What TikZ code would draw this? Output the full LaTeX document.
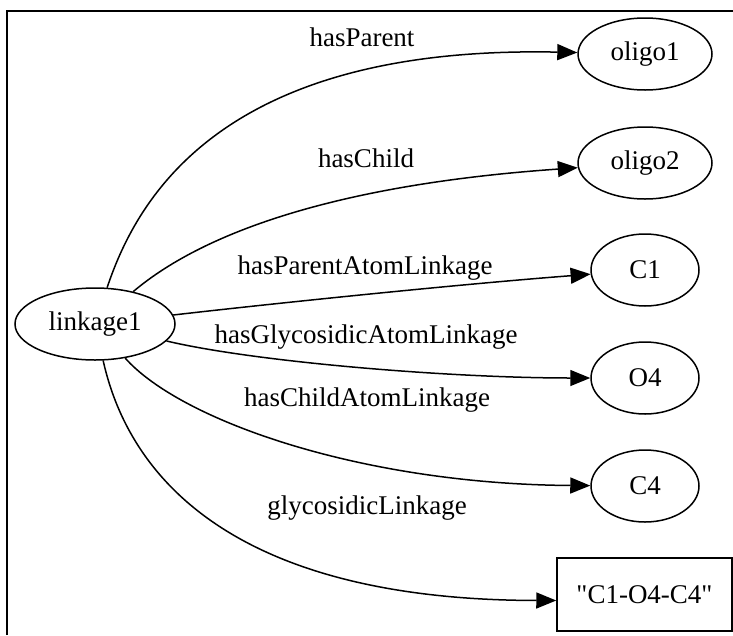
\documentclass[tikz,border=0pt]{standalone}
\usepackage{fontspec}
\setmainfont{Liberation Serif}
\usetikzlibrary{shapes.geometric,arrows.meta}

\begin{document}
\begin{tikzpicture}[x=1pt,y=-1pt,
  every node/.style={font=\fontsize{27}{32}\selectfont},
  ent/.style={draw, ellipse, line width=1.5pt, minimum height=72pt, inner sep=0pt},
  lit/.style={draw, rectangle, line width=1.5pt, minimum width=175pt, minimum height=73pt, inner sep=0pt},
  rel/.style={draw, line width=1.5pt, -{Triangle[length=20pt,width=16pt]}},
  lbl/.style={inner sep=0pt}]
\useasboundingbox (0,0) rectangle (733,635);
% outer frame (left and top edges)
\draw[line width=1.5pt] (7,635) -- (7,11) -- (733,11);

% resources
\node[ent, minimum width=160pt] (linkage) at (95,324) {linkage1};
\node[ent, minimum width=134pt] (oligoA) at (645,54) {oligo1};
\node[ent, minimum width=134pt] (oligoB) at (645,163) {oligo2};
\node[ent, minimum width=108pt] (cone) at (645,270) {C1};
\node[ent, minimum width=108pt] (ofour) at (645,378) {O4};
\node[ent, minimum width=108pt] (cfour) at (645,486) {C4};
\node[lit] (literal) at (644.5,594.5) {\addfontfeatures{Ligatures=TeXOff}"C1-O4-C4"};

% properties
\draw[rel] (linkage) .. controls (138,195) and (225,45) .. (oligoA);
\draw[rel] (linkage) .. controls (200,235) and (330,185) .. (oligoB);
\draw[rel] (linkage) .. controls (260,305) and (450,285) .. (cone);
\draw[rel] (linkage) .. controls (255,362) and (450,378) .. (ofour);
\draw[rel] (linkage) .. controls (180,420) and (360,484) .. (cfour);
\draw[rel] (linkage) .. controls (132,490) and (250,600) .. ([yshift=-6pt]literal.west);

% property labels
\node[lbl] (lA) at (362,37) {hasParent};
\node[lbl] (lB) at (366,158) {hasChild};
\node[lbl] (lC) at (365,268) {hasParentAtomLinkage};
\node[lbl] (lD) at (366,337) {hasGlycosidicAtomLinkage};
\node[lbl] (lE) at (367,400) {hasChildAtomLinkage};
\node[lbl] (lF) at (367,508) {glycosidicLinkage};
\end{tikzpicture}
\end{document}
